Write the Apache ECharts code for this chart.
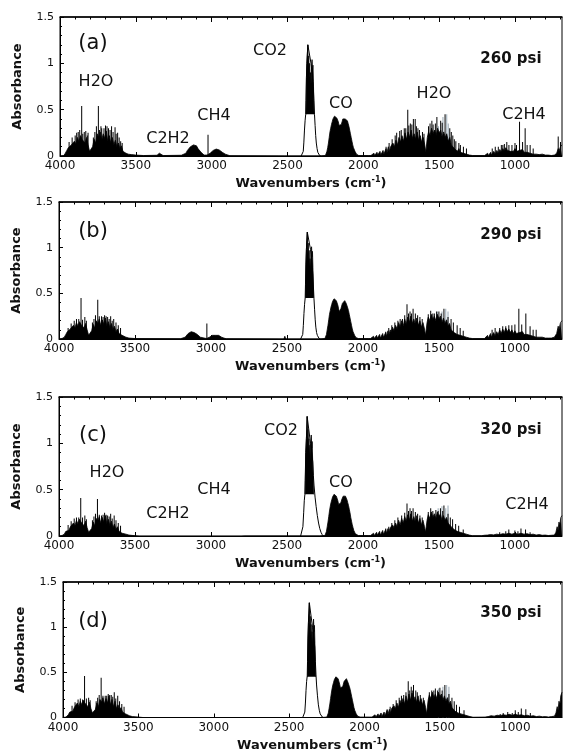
<!DOCTYPE html>
<html>
<head>
<meta charset="utf-8">
<script src="https://cdn.jsdelivr.net/npm/echarts@6/dist/echarts.min.js"></script>
<style>
  html, body { margin: 0; padding: 0; background: #fff; }
  #chart { width: 563px; height: 753px; }
</style>
</head>
<body>
<div id="chart"></div>
<script>
// FTIR spectra of the product gas at four pressures
const xTickLabels = [4000, 3500, 3000, 2500, 2000, 1500, 1000];
const xMin = 690, xMax = 4000;

// (a) 260 psi
const bandA = [
  [4000,0],[3975,0.005],[3965,0.03],[3955,0.06],[3945,0.09],[3935,0.07],[3925,0.12],[3915,0.1],[3905,0.16],[3895,0.13],
  [3885,0.2],[3875,0.15],[3865,0.22],[3855,0.18],[3845,0.2],[3835,0.14],[3825,0.2],[3815,0.12],[3805,0.05],[3795,0.04],
  [3785,0.1],[3775,0.18],[3765,0.14],[3755,0.24],[3745,0.2],[3735,0.26],[3725,0.17],[3715,0.24],[3705,0.19],[3695,0.27],
  [3685,0.16],[3675,0.22],[3665,0.14],[3655,0.2],[3645,0.12],[3635,0.17],[3625,0.1],[3615,0.14],[3605,0.08],[3595,0.11],
  [3585,0.05],[3575,0.07],[3565,0.03],[3550,0.02],[3530,0.015],[3500,0.01],[3450,0.005],[3360,0.008],[3345,0.03],[3335,0.02],
  [3320,0.005],[3200,0.008],[3170,0.03],[3160,0.06],[3150,0.08],[3140,0.1],[3130,0.11],[3120,0.12],[3110,0.1],[3100,0.11],
  [3090,0.08],[3080,0.06],[3070,0.04],[3060,0.02],[3050,0.01],[3030,0.01],[3010,0.03],[3000,0.05],[2990,0.06],[2980,0.07],
  [2970,0.075],[2960,0.07],[2950,0.065],[2940,0.06],[2930,0.04],[2920,0.03],[2910,0.02],[2900,0.01],[2880,0.003],[2520,0],
  [2515,0.015],[2510,0],[2285,0],[2250,0.005],[2245,0.02],[2240,0.05],[2235,0.09],[2230,0.14],[2225,0.2],[2220,0.26],
  [2215,0.3],[2210,0.34],[2205,0.37],[2200,0.4],[2195,0.41],[2190,0.43],[2185,0.42],[2180,0.44],[2175,0.41],[2170,0.4],
  [2165,0.37],[2160,0.33],[2155,0.31],[2150,0.31],[2145,0.34],[2140,0.37],[2135,0.4],[2130,0.41],[2125,0.42],[2120,0.4],
  [2115,0.42],[2110,0.4],[2105,0.38],[2100,0.35],[2095,0.32],[2090,0.28],[2085,0.24],[2080,0.2],[2075,0.16],[2070,0.12],
  [2065,0.09],[2060,0.07],[2055,0.05],[2050,0.03],[2045,0.02],[2040,0.01],[2030,0.005],[1965,0.005],[1955,0.02],[1950,0.005],
  [1930,0.03],[1925,0.005],[1910,0.04],[1905,0.01],[1890,0.05],[1885,0.01],[1870,0.06],[1865,0.02],[1850,0.08],[1845,0.03],
  [1835,0.1],[1830,0.04],[1820,0.1],[1815,0.08],[1805,0.14],[1795,0.1],[1785,0.17],[1775,0.12],[1765,0.2],[1755,0.15],
  [1745,0.22],[1735,0.16],[1725,0.25],[1715,0.18],[1705,0.26],[1695,0.2],[1685,0.28],[1675,0.19],[1665,0.24],[1655,0.18],
  [1645,0.26],[1635,0.17],[1625,0.22],[1615,0.15],[1605,0.2],[1595,0.12],[1588,0.04],[1582,0.02],[1578,0.2],[1570,0.26],
  [1560,0.22],[1550,0.3],[1540,0.24],[1530,0.28],[1520,0.22],[1510,0.3],[1500,0.25],[1490,0.28],[1480,0.2],[1470,0.26],
  [1460,0.2],[1450,0.24],[1440,0.16],[1430,0.2],[1420,0.12],[1410,0.14],[1400,0.08],[1390,0.1],[1380,0.05],[1370,0.08],
  [1360,0.04],[1350,0.06],[1340,0.03],[1330,0.05],[1320,0.02],[1310,0.03],[1300,0.01],[1280,0.005],[1200,0.005],[1190,0.01],
  [1180,0.03],[1175,0.005],[1160,0.04],[1155,0.01],[1140,0.05],[1130,0.02],[1120,0.06],[1110,0.03],[1100,0.07],[1090,0.04],
  [1080,0.08],[1070,0.05],[1060,0.09],[1050,0.06],[1040,0.08],[1030,0.05],[1020,0.07],[1010,0.05],[1000,0.08],[990,0.05],
  [980,0.07],[970,0.06],[960,0.05],[950,0.07],[940,0.04],[930,0.06],[920,0.04],[910,0.05],[900,0.03],[890,0.04],
  [880,0.02],[870,0.03],[860,0.02],[850,0.025],[840,0.015],[820,0.02],[800,0.01],[780,0.01],[760,0.005],[740,0.01],
  [725,0.03],[715,0.08],[710,0.05],[700,0.1],[690,0.12]
];
const spikesA = [
  [3940,0.15],[3920,0.2],[3900,0.22],[3890,0.25],[3880,0.26],[3870,0.28],[3857,0.54],[3850,0.24],[3840,0.26],[3830,0.27],
  [3820,0.22],[3815,0.25],[3780,0.2],[3770,0.26],[3760,0.32],[3747,0.54],[3740,0.28],[3730,0.32],[3725,0.3],[3710,0.3],
  [3700,0.33],[3690,0.32],[3680,0.3],[3670,0.28],[3660,0.32],[3650,0.26],[3637,0.31],[3630,0.24],[3620,0.25],[3610,0.2],
  [3600,0.16],[3590,0.14],[3024,0.23],[1850,0.1],[1830,0.14],[1810,0.18],[1790,0.22],[1780,0.25],[1760,0.27],[1750,0.28],
  [1730,0.3],[1720,0.3],[1707,0.5],[1700,0.33],[1690,0.35],[1680,0.34],[1670,0.4],[1658,0.4],[1650,0.32],[1640,0.3],
  [1630,0.28],[1610,0.26],[1600,0.24],[1570,0.32],[1560,0.35],[1548,0.38],[1540,0.34],[1525,0.35],[1515,0.42],[1490,0.38],
  [1480,0.36],[1461,0.45],[1430,0.3],[1420,0.26],[1410,0.22],[1400,0.18],[1390,0.16],[1370,0.14],[1360,0.12],[1340,0.1],
  [1320,0.08],[1150,0.08],[1130,0.1],[1110,0.1],[1090,0.12],[1080,0.12],[1070,0.13],[1054,0.15],[1040,0.12],[1020,0.12],
  [1000,0.14],[990,0.12],[970,0.37],[950,0.15],[933,0.3],[920,0.12],[900,0.12],[880,0.08],[715,0.21],[700,0.15]
];
const graySpikesA = [[1505,0.32],[1475,0.42],[1450,0.45],[1440,0.35]];
const co2EdgeA = [
  [2410,0],[2400,0.01],[2396,0.05],[2392,0.15],[2388,0.28],[2384,0.38],[2380,0.45],[2378,0.6],[2375,0.85],[2372,1.0],
  [2366,1.2],[2345,1.0],[2330,0.75],[2326,0.6],[2322,0.45],[2318,0.33],[2314,0.22],[2310,0.14],[2305,0.08],[2300,0.04],
  [2295,0.02],[2288,0.005],[2280,0]
];
const co2CoreA = [
  [2378,0.45],[2375,0.85],[2372,1.0],[2369,1.1],[2366,1.2],[2363,0.95],[2360,1.08],[2357,0.88],[2354,1.0],[2351,0.8],
  [2348,0.9],[2345,0.78],[2342,0.95],[2338,1.04],[2335,0.92],[2332,0.98],[2329,0.8],[2327,0.62],[2325,0.45]
];

// (b) 290 psi
const bandB = [
  [4000,0],[3980,0.005],[3965,0.02],[3955,0.05],[3945,0.08],[3935,0.06],[3925,0.11],[3915,0.09],[3905,0.15],[3895,0.12],
  [3885,0.18],[3875,0.14],[3865,0.19],[3855,0.16],[3845,0.18],[3835,0.12],[3825,0.17],[3815,0.1],[3805,0.04],[3795,0.03],
  [3785,0.09],[3775,0.16],[3765,0.12],[3755,0.2],[3745,0.17],[3735,0.22],[3725,0.15],[3715,0.21],[3705,0.16],[3695,0.23],
  [3685,0.14],[3675,0.19],[3665,0.12],[3655,0.17],[3645,0.1],[3635,0.14],[3625,0.08],[3615,0.11],[3605,0.06],[3595,0.08],
  [3585,0.04],[3575,0.05],[3560,0.02],[3540,0.01],[3500,0.005],[3200,0.003],[3170,0.02],[3160,0.04],[3150,0.06],[3140,0.07],
  [3130,0.08],[3120,0.09],[3110,0.07],[3100,0.08],[3090,0.05],[3080,0.04],[3070,0.02],[3060,0.01],[3030,0.005],[3010,0.02],
  [3000,0.03],[2990,0.04],[2980,0.045],[2970,0.04],[2960,0.045],[2950,0.04],[2940,0.035],[2930,0.02],[2915,0.01],[2900,0.003],
  [2520,0],[2514,0.03],[2508,0],[2285,0],[2250,0.005],[2245,0.02],[2240,0.05],[2235,0.1],[2230,0.15],[2225,0.21],
  [2220,0.27],[2215,0.31],[2210,0.35],[2205,0.38],[2200,0.41],[2195,0.42],[2190,0.44],[2185,0.43],[2180,0.45],[2175,0.42],
  [2170,0.4],[2165,0.37],[2160,0.33],[2155,0.3],[2150,0.3],[2145,0.33],[2140,0.36],[2135,0.39],[2130,0.4],[2125,0.41],
  [2120,0.42],[2115,0.4],[2110,0.39],[2105,0.37],[2100,0.34],[2095,0.31],[2090,0.27],[2085,0.23],[2080,0.19],[2075,0.15],
  [2070,0.11],[2065,0.08],[2060,0.06],[2055,0.04],[2050,0.025],[2045,0.015],[2040,0.01],[2030,0.005],[1965,0.005],[1955,0.02],
  [1950,0.005],[1930,0.03],[1925,0.005],[1910,0.04],[1905,0.01],[1890,0.05],[1885,0.01],[1870,0.06],[1865,0.02],[1850,0.07],
  [1845,0.03],[1835,0.09],[1830,0.04],[1820,0.1],[1815,0.07],[1805,0.13],[1795,0.09],[1785,0.15],[1775,0.11],[1765,0.18],
  [1755,0.13],[1745,0.2],[1735,0.14],[1725,0.22],[1715,0.16],[1705,0.24],[1695,0.18],[1685,0.25],[1675,0.17],[1665,0.22],
  [1655,0.16],[1645,0.23],[1635,0.15],[1625,0.2],[1615,0.13],[1605,0.18],[1595,0.11],[1588,0.04],[1582,0.02],[1578,0.18],
  [1570,0.24],[1560,0.2],[1550,0.27],[1540,0.21],[1530,0.25],[1520,0.2],[1510,0.27],[1500,0.22],[1490,0.25],[1480,0.18],
  [1470,0.23],[1460,0.17],[1450,0.21],[1440,0.14],[1430,0.17],[1420,0.1],[1410,0.12],[1400,0.07],[1390,0.09],[1380,0.05],
  [1370,0.07],[1360,0.04],[1350,0.05],[1340,0.03],[1330,0.04],[1320,0.02],[1300,0.01],[1280,0.005],[1200,0.005],[1190,0.015],
  [1180,0.04],[1175,0.01],[1160,0.06],[1155,0.02],[1140,0.07],[1130,0.03],[1120,0.08],[1110,0.05],[1100,0.1],[1090,0.06],
  [1080,0.11],[1070,0.07],[1060,0.12],[1050,0.08],[1040,0.11],[1030,0.07],[1020,0.1],[1010,0.06],[1000,0.09],[990,0.06],
  [980,0.08],[970,0.07],[960,0.06],[950,0.08],[940,0.05],[930,0.07],[920,0.05],[910,0.06],[900,0.04],[890,0.05],
  [880,0.03],[870,0.04],[860,0.02],[850,0.03],[840,0.02],[820,0.02],[800,0.01],[780,0.01],[760,0.01],[740,0.02],
  [725,0.06],[715,0.14],[710,0.1],[700,0.18],[690,0.2]
];
const spikesB = [
  [3940,0.12],[3920,0.17],[3900,0.2],[3885,0.22],[3870,0.22],[3855,0.45],[3845,0.21],[3830,0.24],[3820,0.2],[3780,0.18],
  [3770,0.22],[3760,0.26],[3745,0.43],[3735,0.25],[3720,0.25],[3710,0.24],[3700,0.26],[3690,0.25],[3680,0.24],[3670,0.22],
  [3660,0.25],[3650,0.2],[3640,0.22],[3625,0.18],[3610,0.15],[3595,0.12],[3027,0.17],[1850,0.08],[1830,0.12],[1810,0.15],
  [1790,0.18],[1770,0.2],[1755,0.22],[1740,0.22],[1725,0.26],[1710,0.38],[1700,0.28],[1690,0.3],[1680,0.28],[1670,0.33],
  [1655,0.28],[1640,0.26],[1625,0.24],[1610,0.22],[1570,0.27],[1554,0.31],[1540,0.28],[1530,0.28],[1515,0.3],[1500,0.3],
  [1485,0.28],[1467,0.33],[1440,0.24],[1420,0.22],[1405,0.18],[1380,0.15],[1360,0.12],[1340,0.09],[1150,0.1],[1130,0.12],
  [1100,0.12],[1080,0.14],[1060,0.14],[1040,0.15],[1020,0.15],[1000,0.16],[974,0.33],[955,0.16],[928,0.28],[900,0.14],
  [880,0.1],[860,0.1]
];
const graySpikesB = [[1510,0.3],[1480,0.3],[1455,0.33],[1440,0.3]];
const co2EdgeB = [
  [2410,0],[2400,0.01],[2396,0.05],[2392,0.15],[2388,0.28],[2384,0.38],[2380,0.45],[2378,0.6],[2375,0.82],[2372,0.98],
  [2366,1.17],[2345,0.98],[2330,0.72],[2326,0.58],[2322,0.44],[2318,0.32],[2314,0.21],[2310,0.13],[2305,0.07],[2300,0.04],
  [2295,0.02],[2288,0.005],[2280,0]
];
const co2CoreB = [
  [2378,0.45],[2375,0.82],[2372,0.98],[2369,1.08],[2366,1.17],[2363,0.92],[2360,1.05],[2357,0.85],[2354,0.97],[2351,0.78],
  [2348,0.88],[2345,0.76],[2342,0.92],[2338,1.01],[2335,0.9],[2332,0.96],[2329,0.78],[2327,0.6],[2325,0.45]
];

// (c) 320 psi
const bandC = [
  [4000,0],[3980,0.005],[3965,0.02],[3955,0.05],[3945,0.07],[3935,0.06],[3925,0.1],[3915,0.08],[3905,0.14],[3895,0.11],
  [3885,0.17],[3875,0.13],[3865,0.18],[3855,0.15],[3845,0.17],[3835,0.11],[3825,0.16],[3815,0.09],[3805,0.04],[3795,0.03],
  [3785,0.08],[3775,0.15],[3765,0.11],[3755,0.19],[3745,0.16],[3735,0.21],[3725,0.14],[3715,0.2],[3705,0.15],[3695,0.22],
  [3685,0.13],[3675,0.18],[3665,0.11],[3655,0.16],[3645,0.09],[3635,0.13],[3625,0.07],[3615,0.1],[3605,0.05],[3595,0.07],
  [3585,0.03],[3575,0.04],[3560,0.02],[3540,0.01],[3500,0.003],[3470,-0.004],[3000,-0.004],[2990,0.006],[2985,-0.004],[2800,-0.004],
  [2780,0],[2285,0],[2250,0.005],[2245,0.02],[2240,0.05],[2235,0.1],[2230,0.15],[2225,0.21],[2220,0.27],[2215,0.32],
  [2210,0.36],[2205,0.39],[2200,0.42],[2195,0.43],[2190,0.45],[2185,0.44],[2180,0.46],[2175,0.43],[2170,0.41],[2165,0.38],
  [2160,0.34],[2155,0.33],[2150,0.33],[2145,0.36],[2140,0.39],[2135,0.41],[2130,0.43],[2125,0.44],[2120,0.45],[2115,0.43],
  [2110,0.41],[2105,0.39],[2100,0.36],[2095,0.33],[2090,0.29],[2085,0.25],[2080,0.2],[2075,0.16],[2070,0.12],[2065,0.09],
  [2060,0.06],[2055,0.04],[2050,0.025],[2045,0.015],[2040,0.01],[2030,0.005],[1965,0.005],[1955,0.02],[1950,0.005],[1930,0.03],
  [1925,0.005],[1910,0.04],[1905,0.01],[1890,0.05],[1885,0.01],[1870,0.06],[1865,0.02],[1850,0.07],[1845,0.03],[1835,0.08],
  [1830,0.04],[1820,0.09],[1815,0.07],[1805,0.12],[1795,0.09],[1785,0.14],[1775,0.1],[1765,0.17],[1755,0.12],[1745,0.19],
  [1735,0.14],[1725,0.21],[1715,0.16],[1705,0.23],[1695,0.17],[1685,0.24],[1675,0.16],[1665,0.21],[1655,0.15],[1645,0.22],
  [1635,0.14],[1625,0.19],[1615,0.12],[1605,0.17],[1595,0.1],[1588,0.04],[1582,0.02],[1578,0.17],[1570,0.23],[1560,0.19],
  [1550,0.26],[1540,0.2],[1530,0.24],[1520,0.19],[1510,0.26],[1500,0.21],[1490,0.24],[1480,0.17],[1470,0.22],[1460,0.17],
  [1450,0.2],[1440,0.14],[1430,0.16],[1420,0.1],[1410,0.12],[1400,0.07],[1390,0.08],[1380,0.05],[1370,0.06],[1360,0.04],
  [1350,0.05],[1340,0.03],[1330,0.035],[1320,0.02],[1300,0.01],[1280,0.003],[1220,0.003],[1200,0.008],[1180,0.01],[1160,0.015],
  [1140,0.012],[1120,0.02],[1100,0.015],[1080,0.025],[1060,0.02],[1040,0.03],[1020,0.02],[1000,0.03],[980,0.02],[960,0.03],
  [940,0.02],[920,0.025],[900,0.015],[880,0.02],[860,0.01],[840,0.015],[820,0.008],[800,0.01],[780,0.005],[760,0.008],
  [740,0.01],[730,0.04],[722,0.1],[716,0.06],[710,0.15],[704,0.12],[698,0.2],[690,0.22]
];
const spikesC = [
  [3940,0.12],[3920,0.16],[3900,0.19],[3885,0.2],[3870,0.2],[3857,0.41],[3845,0.2],[3830,0.22],[3820,0.18],[3780,0.17],
  [3770,0.21],[3760,0.24],[3747,0.4],[3735,0.23],[3720,0.22],[3710,0.23],[3700,0.25],[3690,0.23],[3680,0.22],[3670,0.21],
  [3660,0.24],[3650,0.19],[3637,0.22],[3625,0.17],[3610,0.14],[3595,0.11],[1850,0.08],[1830,0.1],[1810,0.14],[1790,0.17],
  [1770,0.2],[1745,0.22],[1725,0.25],[1710,0.35],[1700,0.27],[1690,0.3],[1680,0.27],[1670,0.3],[1655,0.26],[1640,0.24],
  [1625,0.22],[1610,0.2],[1570,0.26],[1554,0.3],[1540,0.27],[1520,0.28],[1505,0.27],[1490,0.3],[1475,0.27],[1467,0.33],
  [1440,0.24],[1425,0.2],[1410,0.18],[1390,0.13],[1370,0.11],[1340,0.07],[1100,0.04],[1060,0.05],[1040,0.07],[1000,0.06],
  [980,0.05],[960,0.08],[930,0.07],[900,0.04]
];
const graySpikesC = [[1505,0.3],[1480,0.32],[1455,0.3],[1440,0.33]];
const co2EdgeC = [
  [2410,0],[2400,0.01],[2395,0.1],[2390,0.25],[2386,0.38],[2382,0.45],[2380,0.6],[2376,0.9],[2372,1.05],[2367,1.29],
  [2345,1.0],[2330,0.8],[2326,0.65],[2322,0.55],[2315,0.42],[2308,0.32],[2300,0.22],[2292,0.14],[2284,0.08],[2276,0.04],
  [2268,0.015],[2260,0]
];
const co2CoreC = [
  [2380,0.45],[2376,0.9],[2372,1.05],[2369,1.15],[2367,1.29],[2364,1.0],[2361,1.15],[2358,0.92],[2355,1.05],[2352,0.85],
  [2349,0.98],[2346,0.82],[2343,1.0],[2340,1.09],[2337,0.95],[2334,1.02],[2331,0.82],[2328,0.65],[2325,0.45]
];

// (d) 350 psi
const bandD = [
  [4000,0],[3980,0.005],[3965,0.03],[3955,0.06],[3945,0.08],[3935,0.07],[3925,0.11],[3915,0.09],[3905,0.16],[3895,0.12],
  [3885,0.18],[3875,0.14],[3865,0.19],[3855,0.16],[3845,0.18],[3835,0.12],[3825,0.17],[3815,0.1],[3805,0.05],[3795,0.04],
  [3785,0.09],[3775,0.16],[3765,0.12],[3755,0.2],[3745,0.17],[3735,0.22],[3725,0.15],[3715,0.21],[3705,0.16],[3695,0.24],
  [3685,0.14],[3675,0.2],[3665,0.12],[3655,0.18],[3645,0.1],[3635,0.14],[3625,0.08],[3615,0.11],[3605,0.06],[3595,0.08],
  [3585,0.04],[3575,0.05],[3560,0.02],[3540,0.01],[3500,0.005],[3470,0],[3330,0],[3320,-0.005],[2800,-0.005],[2780,0],
  [2285,0],[2250,0.005],[2245,0.02],[2240,0.05],[2235,0.1],[2230,0.15],[2225,0.21],[2220,0.27],[2215,0.32],[2210,0.36],
  [2205,0.39],[2200,0.42],[2195,0.43],[2190,0.45],[2185,0.44],[2180,0.46],[2175,0.43],[2170,0.41],[2165,0.37],[2160,0.33],
  [2155,0.31],[2150,0.31],[2145,0.34],[2140,0.37],[2135,0.4],[2130,0.41],[2125,0.42],[2120,0.43],[2115,0.41],[2110,0.39],
  [2105,0.37],[2100,0.34],[2095,0.31],[2090,0.27],[2085,0.23],[2080,0.19],[2075,0.15],[2070,0.11],[2065,0.08],[2060,0.06],
  [2055,0.04],[2050,0.025],[2045,0.015],[2040,0.01],[2030,0.005],[1965,0.005],[1955,0.02],[1950,0.005],[1930,0.03],[1925,0.005],
  [1910,0.04],[1905,0.01],[1890,0.05],[1885,0.01],[1870,0.06],[1865,0.02],[1850,0.08],[1845,0.03],[1835,0.09],[1830,0.04],
  [1820,0.1],[1815,0.08],[1805,0.13],[1795,0.1],[1785,0.16],[1775,0.11],[1765,0.19],[1755,0.14],[1745,0.21],[1735,0.15],
  [1725,0.24],[1715,0.17],[1705,0.26],[1695,0.19],[1685,0.27],[1675,0.18],[1665,0.23],[1655,0.17],[1645,0.24],[1635,0.16],
  [1625,0.21],[1615,0.14],[1605,0.19],[1595,0.11],[1588,0.04],[1582,0.02],[1578,0.19],[1570,0.25],[1560,0.21],[1550,0.28],
  [1540,0.22],[1530,0.26],[1520,0.21],[1510,0.28],[1500,0.23],[1490,0.26],[1480,0.19],[1470,0.24],[1460,0.18],[1450,0.22],
  [1440,0.15],[1430,0.18],[1420,0.11],[1410,0.13],[1400,0.07],[1390,0.09],[1380,0.05],[1370,0.06],[1360,0.04],[1350,0.05],
  [1340,0.03],[1330,0.035],[1320,0.02],[1300,0.01],[1280,0.003],[1200,0.005],[1180,0.01],[1160,0.02],[1140,0.015],[1120,0.025],
  [1100,0.02],[1080,0.03],[1060,0.025],[1040,0.035],[1020,0.025],[1000,0.035],[980,0.025],[960,0.03],[940,0.02],[920,0.025],
  [900,0.015],[880,0.02],[860,0.01],[840,0.015],[820,0.008],[800,0.01],[780,0.005],[760,0.01],[740,0.015],[730,0.05],
  [722,0.12],[716,0.08],[710,0.18],[704,0.14],[698,0.24],[690,0.28]
];
const spikesD = [
  [3940,0.13],[3920,0.17],[3900,0.2],[3885,0.21],[3870,0.2],[3857,0.46],[3845,0.21],[3830,0.22],[3820,0.19],[3780,0.18],
  [3770,0.22],[3760,0.25],[3747,0.44],[3735,0.24],[3720,0.24],[3710,0.24],[3700,0.26],[3690,0.25],[3680,0.25],[3670,0.23],
  [3660,0.28],[3650,0.21],[3637,0.24],[3625,0.18],[3610,0.15],[3595,0.12],[1850,0.09],[1830,0.12],[1810,0.15],[1790,0.19],
  [1770,0.22],[1755,0.24],[1740,0.25],[1725,0.28],[1710,0.4],[1700,0.3],[1690,0.34],[1680,0.3],[1675,0.36],[1660,0.3],
  [1650,0.28],[1630,0.25],[1610,0.22],[1570,0.28],[1554,0.3],[1540,0.3],[1530,0.32],[1515,0.3],[1500,0.33],[1485,0.3],
  [1467,0.36],[1440,0.26],[1420,0.22],[1405,0.18],[1390,0.14],[1370,0.12],[1340,0.08],[1100,0.04],[1080,0.05],[1050,0.06],
  [1020,0.05],[1000,0.08],[980,0.06],[960,0.1],[930,0.09],[900,0.05]
];
const graySpikesD = [[1510,0.32],[1480,0.34],[1455,0.36],[1440,0.34]];
const co2EdgeD = [
  [2410,0],[2400,0.01],[2396,0.06],[2392,0.16],[2388,0.3],[2384,0.4],[2380,0.46],[2378,0.62],[2375,0.88],[2372,1.05],
  [2366,1.27],[2345,1.0],[2330,0.78],[2326,0.62],[2322,0.48],[2318,0.36],[2312,0.24],[2306,0.14],[2300,0.08],[2294,0.04],
  [2288,0.02],[2280,0.005],[2272,0]
];
const co2CoreD = [
  [2378,0.45],[2375,0.88],[2372,1.05],[2369,1.15],[2366,1.27],[2363,1.0],[2360,1.12],[2357,0.9],[2354,1.03],[2351,0.83],
  [2348,0.95],[2345,0.8],[2342,0.98],[2338,1.09],[2335,0.95],[2332,1.02],[2329,0.82],[2327,0.64],[2325,0.45]
];

const panelTags = ['(a)', '(b)', '(c)', '(d)'];
const pressures = ['260 psi', '290 psi', '320 psi', '350 psi'];
const species = ['H2O', 'C2H2', 'CH4', 'CO2', 'CO', 'H2O', 'C2H4'];

const FONT = '"DejaVu Sans", "Liberation Sans", sans-serif';

// layout of the four stacked plots (pixels)
const layout = [
  { data: [bandA, spikesA, graySpikesA, co2EdgeA, co2CoreA], left: 60, top: 17, height: 139,
    tag: [93, 44], psi: [511, 59],
    species: [[96, 82], [168, 139], [214, 116], [270, 51], [341, 104], [434, 94], [524, 115]] },
  { data: [bandB, spikesB, graySpikesB, co2EdgeB, co2CoreB], left: 59, top: 202, height: 137,
    tag: [93, 232], psi: [511, 235], species: null },
  { data: [bandC, spikesC, graySpikesC, co2EdgeC, co2CoreC], left: 59, top: 397, height: 139,
    tag: [93, 436], psi: [511, 430],
    species: [[107, 473], [168, 514], [214, 490], [281, 431], [341, 483], [434, 490], [527, 505]] },
  { data: [bandD, spikesD, graySpikesD, co2EdgeD, co2CoreD], left: 63, top: 582, height: 136,
    tag: [93, 622], psi: [511, 613], species: null }
];

const xMinorTicks = [];
for (let v = 4000; v >= 700; v -= 100) xMinorTicks.push(v);

const grids = [], xAxes = [], yAxes = [], series = [], graphic = [];
const black = '#111';

layout.forEach((p, i) => {
  grids.push({ left: p.left, top: p.top, height: p.height, right: 1,
    show: true, borderColor: '#000', borderWidth: 1, backgroundColor: 'transparent' });

  xAxes.push({
    gridIndex: i, type: 'value', min: xMin, max: xMax, inverse: true, position: 'bottom',
    name: '{t|Wavenumbers (cm}{s|-1}{t|)}', nameLocation: 'middle', nameGap: 20,
    nameTextStyle: { rich: {
      t: { fontFamily: FONT, fontWeight: 'bold', fontSize: 13, color: black },
      s: { fontFamily: FONT, fontWeight: 'bold', fontSize: 8, color: black, padding: [0, 0, 8, 0] }
    } },
    axisLine: { lineStyle: { color: '#000', width: 1 } },
    axisTick: { inside: true, length: 4, customValues: xTickLabels, lineStyle: { color: '#000' } },
    axisLabel: { customValues: xTickLabels, formatter: v => String(v),
      fontFamily: FONT, fontSize: 12, color: black, margin: 4 },
    splitLine: { show: false }
  });
  xAxes.push({
    gridIndex: i, type: 'value', min: xMin, max: xMax, inverse: true, position: 'top',
    axisLine: { lineStyle: { color: '#000', width: 1.5 } },
    axisTick: { inside: true, length: 2.5, customValues: xMinorTicks, lineStyle: { color: '#000' } },
    axisLabel: { show: false }, splitLine: { show: false }
  });
  xAxes.push({
    gridIndex: i, type: 'value', min: xMin, max: xMax, inverse: true, position: 'top',
    axisLine: { show: false },
    axisTick: { inside: true, length: 5, customValues: xTickLabels, lineStyle: { color: '#000' } },
    axisLabel: { show: false }, splitLine: { show: false }
  });
  yAxes.push({
    gridIndex: i, type: 'value', min: 0, max: 1.5, interval: 0.5,
    name: 'Absorbance', nameLocation: 'middle', nameGap: 36,
    nameTextStyle: { fontFamily: FONT, fontWeight: 'bold', fontSize: 13, color: black },
    axisLine: { show: true, lineStyle: { color: '#000', width: 1 } },
    axisTick: { inside: true, length: 4, lineStyle: { color: '#000' } },
    minorTick: { show: true, splitNumber: 5, length: 2, lineStyle: { color: '#000' } },
    axisLabel: { fontFamily: FONT, fontSize: 11, color: black, margin: 6 },
    splitLine: { show: false }
  });

  const [band, spikes, gray, edge, core] = p.data;
  const xi = i * 3;
  series.push({
    type: 'line', xAxisIndex: xi, yAxisIndex: i, data: band, showSymbol: false, symbol: 'none',
    lineStyle: { color: '#000', width: 0.8 }, areaStyle: { color: '#000', opacity: 1 }, silent: true
  });
  series.push({
    type: 'line', xAxisIndex: xi, yAxisIndex: i, data: core, showSymbol: false, symbol: 'none',
    lineStyle: { color: '#000', width: 0.8 }, areaStyle: { color: '#000', opacity: 1, origin: 0.45 }, silent: true
  });
  series.push({
    type: 'line', xAxisIndex: xi, yAxisIndex: i, data: edge, showSymbol: false, symbol: 'none',
    lineStyle: { color: '#000', width: 1 }, silent: true
  });
  series.push({
    type: 'bar', xAxisIndex: xi, yAxisIndex: i, data: gray, barWidth: 1, barGap: '-100%',
    itemStyle: { color: '#9aaab6' }, silent: true
  });
  series.push({
    type: 'bar', xAxisIndex: xi, yAxisIndex: i, data: spikes, barWidth: 1, barGap: '-100%',
    itemStyle: { color: '#000' }, silent: true
  });

  graphic.push({ type: 'text', x: p.tag[0], y: p.tag[1], style: {
    text: panelTags[i], fontFamily: FONT, fontSize: 21, fill: black, align: 'center', verticalAlign: 'middle' } });
  graphic.push({ type: 'text', x: p.psi[0], y: p.psi[1], style: {
    text: pressures[i], fontFamily: FONT, fontWeight: 'bold', fontSize: 15, fill: black, align: 'center', verticalAlign: 'middle' } });
  if (p.species) {
    p.species.forEach((pos, k) => {
      graphic.push({ type: 'text', x: pos[0], y: pos[1], style: {
        text: species[k], fontFamily: FONT, fontSize: 16, fill: black, align: 'center', verticalAlign: 'middle' } });
    });
  }
});

const chart = echarts.init(document.getElementById('chart'), null, { renderer: 'canvas' });
chart.setOption({
  animation: false,
  backgroundColor: '#fff',
  grid: grids,
  xAxis: xAxes,
  yAxis: yAxes,
  series: series,
  graphic: graphic
});
</script>
</body>
</html>
